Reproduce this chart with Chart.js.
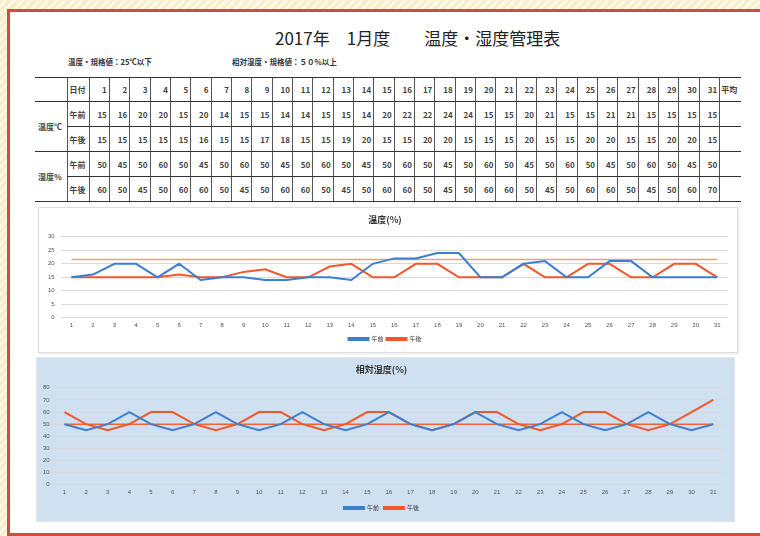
<!DOCTYPE html>
<html>
<head>
<meta charset="utf-8">
<script src="https://cdn.jsdelivr.net/npm/chart.js@4"></script>
<style>
  html, body { margin: 0; padding: 0; }
  body {
    width: 760px; height: 536px; overflow: hidden; position: relative;
    background: repeating-linear-gradient(135deg, #f6edc9 0 3px, #fcf8e8 3px 6px);
    font-family: "Noto Sans CJK JP", sans-serif;
  }
  #panel {
    position: absolute; left: 7px; top: 9px; width: 780px; height: 521px;
    border: 3px solid #d44a3e; background: #fff;
  }
  #title {
    position: absolute; left: 275px; top: 25px; font-size: 17px; color: #222;
    white-space: pre;
  }
  .note { position: absolute; top: 56px; font-size: 7.5px; font-weight: bold; color: #333; white-space: pre; }
  #tbl {
    position: absolute; left: 35px; top: 77px; border-collapse: collapse;
    table-layout: fixed; font-size: 8px; font-weight: bold; color: #444;
  }
  #tbl td {
    padding: 0 2px 0 0; text-align: right; border-left: 1px solid #555;
    border-top: 1.5px solid #333; border-bottom: 1.5px solid #333; overflow: hidden;
    white-space: nowrap;
  }
  #tbl td.grp { border-left: none; text-align: left; padding-left: 3px; }
  #tbl td.lab { text-align: left; padding-left: 2px; }
  #tbl td.avg { text-align: left; padding-left: 1px; }
  #box1 {
    position: absolute; left: 38px; top: 207px; width: 698px; height: 144px;
    border: 1px solid #dcdcdc; background: #fff; box-shadow: 1px 1px 2px #e6e6e6;
  }
  #box2 {
    position: absolute; left: 36px; top: 357px; width: 697px; height: 163px;
    border: 1px solid #e0e6ec; background: #cfe1f0;
  }
  canvas { position: absolute; left: 0; top: 0; }
</style>
</head>
<body>
<div id="panel"></div>
<div id="title">2017年　1月度　　温度・湿度管理表</div>
<div class="note" style="left:68px">温度・規格値：25℃以下</div>
<div class="note" style="left:232px">相対湿度・規格値：５０%以上</div>
<table id="tbl"></table>
<div id="box1"><canvas id="c1" width="698" height="144"></canvas></div>
<div id="box2"><canvas id="c2" width="697" height="163"></canvas></div>
<script>
const days = [];
for (let d = 1; d <= 31; d++) days.push(String(d));

const tempAM = [15,16,20,20,15,20,14,15,15,14,14,15,15,14,20,22,22,24,24,15,15,20,21,15,15,21,21,15,15,15,15];
const tempPM = [15,15,15,15,15,16,15,15,17,18,15,15,19,20,15,15,20,20,15,15,15,20,15,15,20,20,15,15,20,20,15];
const humAM = [50,45,50,60,50,45,50,60,50,45,50,60,50,45,50,60,50,45,50,60,50,45,50,60,50,45,50,60,50,45,50];
const humPM = [60,50,45,50,60,60,50,45,50,60,60,50,45,50,60,60,50,45,50,60,60,50,45,50,60,60,50,45,50,60,70];
// reference lines as drawn in the charts
const tempRef = days.map(() => 21.6);
const humRef = days.map(() => 50);

const blue = '#3a7fd2';
const orange = '#f0582a';

// table
const tbl = document.getElementById('tbl');
let html = '<colgroup><col style="width:32px"><col style="width:22px">';
for (let i = 0; i < 31; i++) html += '<col style="width:20.35px">';
html += '<col style="width:21px"></colgroup>';
html += '<tr style="height:24px"><td class="grp"></td><td class="lab">日付</td>' +
  days.map(d => '<td>' + d + '</td>').join('') + '<td class="avg">平均</td></tr>';
function row(group, label, vals, first) {
  let r = '<tr style="height:25px">';
  if (first) r += '<td class="grp" rowspan="2">' + group + '</td>';
  r += '<td class="lab">' + label + '</td>' + vals.map(v => '<td>' + v + '</td>').join('') + '<td></td></tr>';
  return r;
}
html += row('温度℃', '午前', tempAM, true) + row('', '午後', tempPM, false);
html += row('湿度%', '午前', humAM, true) + row('', '午後', humPM, false);
tbl.innerHTML = html;

function makeChart(id, title, am, pm, ref, refColor, max, step, o) {
  return new Chart(document.getElementById(id), {
    type: 'line',
    data: {
      labels: days,
      datasets: [
        { label: '午前', data: am, borderColor: blue, backgroundColor: blue, borderWidth: 2, pointRadius: 0, tension: 0 },
        { label: '午後', data: pm, borderColor: orange, backgroundColor: orange, borderWidth: 2, pointRadius: 0, tension: 0 },
        { label: 'ref', data: ref, borderColor: refColor, backgroundColor: refColor, borderWidth: 1.5, pointRadius: 0 }
      ]
    },
    options: {
      responsive: false,
      animation: false,
      layout: { padding: { left: o.left, right: o.right, top: 0, bottom: 0 } },
      plugins: {
        title: { display: true, text: title, color: '#333', font: { size: 9, weight: 'bold', family: 'Noto Sans CJK JP' }, padding: { top: 6, bottom: o.titleGap } },
        legend: {
          position: 'bottom',
          labels: {
            filter: item => item.text !== 'ref',
            boxWidth: 20, boxHeight: 2, padding: o.legendPad,
            color: '#333', font: { size: 6, family: 'Noto Sans CJK JP' }
          }
        },
        tooltip: { enabled: false }
      },
      scales: {
        x: {
          offset: true,
          grid: { display: false, drawTicks: false },
          border: { display: false },
          ticks: { color: '#555', font: { size: 6 }, maxRotation: 0, autoSkip: false, padding: o.xPad }
        },
        y: {
          min: 0, max: max,
          ticks: { stepSize: step, color: '#555', font: { size: 6 }, padding: o.yPad },
          grid: { color: '#d9d9d9', drawTicks: false },
          border: { display: false }
        }
      }
    }
  });
}

makeChart('c1', '温度(%)', tempAM, tempPM, tempRef, '#f39a84', 30, 5, { left: 3, right: 9, titleGap: 12, legendPad: 3, xPad: 4, yPad: 6 });
makeChart('c2', '相対湿度(%)', humAM, humPM, humRef, '#f26436', 80, 10, { left: 2, right: 10, titleGap: 13, legendPad: 5, xPad: 4, yPad: 4 });
</script>
</body>
</html>
